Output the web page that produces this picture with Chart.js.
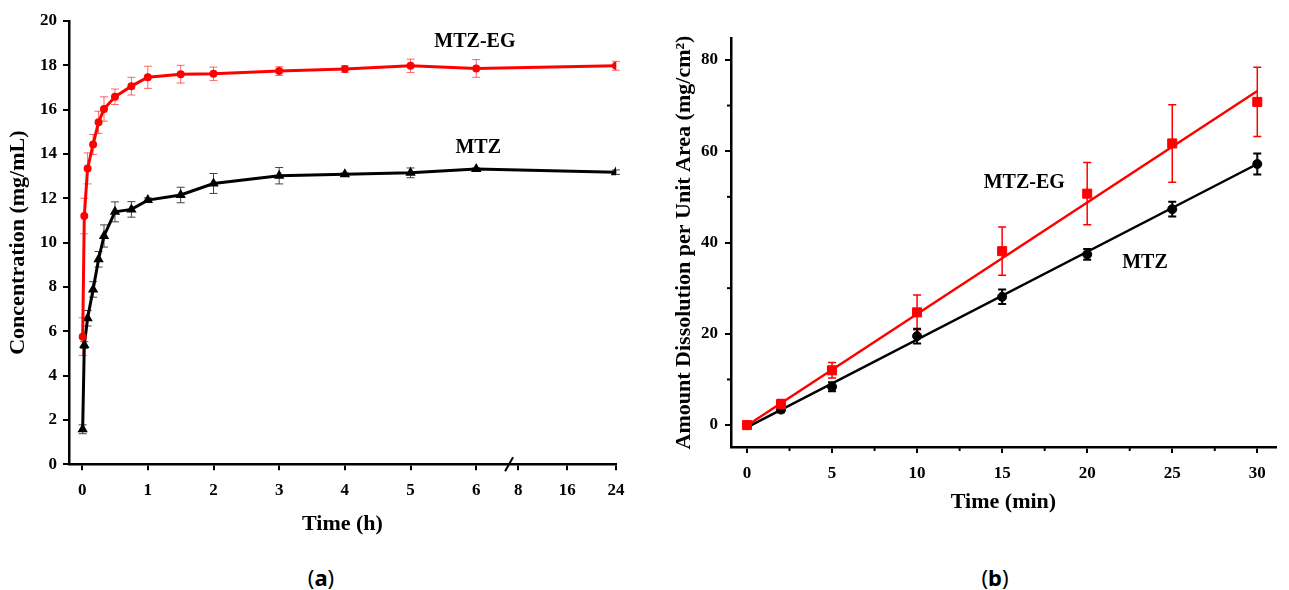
<!DOCTYPE html>
<html>
<head>
<meta charset="utf-8">
<script src="https://cdn.jsdelivr.net/npm/chart.js@4.4.0/dist/chart.umd.min.js"></script>
<style>
  body { margin: 0; background: #fff; width: 1289px; height: 590px; position: relative; overflow: hidden; }
  .box { position: absolute; }
  .cap { position: absolute; font-family: "Noto Sans", sans-serif; font-size: 22px; color: #000; transform: translate(-50%, -50%); }
</style>
</head>
<body>
<div class="box" style="left:0;top:0;width:640px;height:540px"><canvas id="chart-a"></canvas></div>
<div class="box" style="left:650px;top:0;width:639px;height:520px"><canvas id="chart-b"></canvas></div>
<div class="cap" style="left:321px;top:577px">(<b>a</b>)</div>
<div class="cap" style="left:995px;top:577px">(<b>b</b>)</div>
<script>
// panel (a): concentration over time
const hours = [0.008, 0.033, 0.083, 0.167, 0.25, 0.333, 0.5, 0.75, 1, 1.5, 2, 3, 4, 5, 6, 24]
const egConc = [5.76, 11.2, 13.35, 14.43, 15.43, 16.03, 16.58, 17.06, 17.46, 17.6, 17.62, 17.74, 17.83, 17.98, 17.86, 17.98]
const egConcErr = [0.85, 0.8, 0.7, 0.45, 0.5, 0.55, 0.35, 0.4, 0.5, 0.4, 0.3, 0.2, 0.15, 0.3, 0.4, 0.2]
const mtzConc = [1.58, 5.38, 6.59, 7.89, 9.25, 10.3, 11.39, 11.5, 11.92, 12.15, 12.67, 13.02, 13.09, 13.15, 13.32, 13.18]
const mtzConcErr = [0.2, 0.15, 0.35, 0.35, 0.35, 0.5, 0.45, 0.35, 0.1, 0.35, 0.45, 0.37, 0.05, 0.22, 0.05, 0.1]
const hourTicks = [0, 1, 2, 3, 4, 5, 6, 8, 16, 24]
const concTicks = [0, 2, 4, 6, 8, 10, 12, 14, 16, 18, 20]

// panel (b): dissolution per unit area
const minutes = [0, 2, 5, 10, 15, 20, 25, 30]
const egAmount = [0, 4.6, 12.0, 24.7, 38.1, 50.7, 61.7, 70.8]
const egAmountErr = [0, 1.0, 1.7, 3.8, 5.3, 6.8, 8.5, 7.6]
const mtzAmount = [0, 3.4, 8.4, 19.5, 28.1, 37.4, 47.3, 57.2]
const mtzAmountErr = [0, 0.6, 1.0, 1.6, 1.6, 1.2, 1.6, 2.3]
const fitMinutes = [0, 30]
const egFit = [-0.1, 73.2]
const mtzFit = [-0.5, 57.2]
const minuteTicks = [0, 5, 10, 15, 20, 25, 30]
const amountTicks = [0, 20, 40, 60, 80]

const RED = '#ff0000'
const tickFont = { family: 'Liberation Serif', weight: 'bold', size: 17 }
const titleFont = { family: 'Liberation Serif', weight: 'bold', size: 22 }

// broken axis: hours after 6 are squeezed
function hourPos (t) {
  return t <= 6 ? t : 6.64 + (t - 8) * 0.093
}

const errorBars = {
  id: 'errorBars',
  beforeDatasetsDraw (chart, args, opts) {
    const { ctx, scales: { x, y } } = chart
    for (const ds of chart.data.datasets) {
      if (!ds.errors) continue
      ctx.save()
      ctx.strokeStyle = ds.errorColor
      ctx.lineWidth = ds.errorWidth
      ds.data.forEach((p, j) => {
        const e = ds.errors[j]
        if (!e) return
        const px = x.getPixelForValue(p.x)
        const top = y.getPixelForValue(p.y + e)
        const bot = y.getPixelForValue(p.y - e)
        const c = opts.cap
        ctx.beginPath()
        ctx.moveTo(px, top); ctx.lineTo(px, bot)
        ctx.moveTo(px - c, top); ctx.lineTo(px + c, top)
        ctx.moveTo(px - c, bot); ctx.lineTo(px + c, bot)
        ctx.stroke()
      })
      ctx.restore()
    }
  }
}

const seriesLabels = {
  id: 'seriesLabels',
  afterDatasetsDraw (chart, args, opts) {
    const { ctx, scales: { x, y } } = chart
    ctx.save()
    ctx.font = 'bold 20px "Liberation Serif"'
    ctx.fillStyle = '#000'
    ctx.textAlign = 'center'
    ctx.textBaseline = 'middle'
    for (const l of opts.items) {
      ctx.fillText(l.text, x.getPixelForValue(l.x), y.getPixelForValue(l.y))
    }
    ctx.restore()
  }
}

const axisExtras = {
  id: 'axisExtras',
  afterDraw (chart, args, opts) {
    const { ctx, scales: { x, y }, chartArea } = chart
    ctx.save()
    ctx.strokeStyle = '#000'
    ctx.lineWidth = 2
    if (opts.breakAt != null) {
      const bx = x.getPixelForValue(opts.breakAt)
      const by = chartArea.bottom
      ctx.beginPath()
      ctx.moveTo(bx - 4, by + 7)
      ctx.lineTo(bx + 4, by - 7)
      ctx.stroke()
    }
    for (const v of opts.minorX || []) {
      const px = x.getPixelForValue(v)
      ctx.beginPath()
      ctx.moveTo(px, chartArea.bottom)
      ctx.lineTo(px, chartArea.bottom + 4)
      ctx.stroke()
    }
    for (const v of opts.minorY || []) {
      const py = y.getPixelForValue(v)
      ctx.beginPath()
      ctx.moveTo(chartArea.left, py)
      ctx.lineTo(chartArea.left - 4, py)
      ctx.stroke()
    }
    ctx.restore()
  }
}

function axisStyle (extra) {
  return Object.assign({
    type: 'linear',
    grid: { drawOnChartArea: false, drawTicks: true, tickLength: 6, color: '#000', lineWidth: 2 },
    border: { color: '#000', width: 2.5 }
  }, extra)
}

new Chart(document.getElementById('chart-a'), {
  type: 'scatter',
  data: {
    datasets: [
      {
        label: 'MTZ-EG',
        data: hours.map((t, i) => ({ x: hourPos(t), y: egConc[i] })),
        errors: egConcErr,
        errorColor: 'rgba(255,0,0,0.6)',
        errorWidth: 1,
        showLine: true,
        borderColor: RED,
        backgroundColor: RED,
        borderWidth: 3,
        pointStyle: 'circle',
        pointRadius: 2.5
      },
      {
        label: 'MTZ',
        data: hours.map((t, i) => ({ x: hourPos(t), y: mtzConc[i] })),
        errors: mtzConcErr,
        errorColor: '#444',
        errorWidth: 1,
        showLine: true,
        borderColor: '#000',
        backgroundColor: '#000',
        borderWidth: 3,
        pointStyle: 'triangle',
        pointRadius: 3
      }
    ]
  },
  options: {
    responsive: true,
    maintainAspectRatio: false,
    animation: false,
    layout: { padding: { top: 21, right: 24, left: 0, bottom: 0 } },
    plugins: {
      legend: { display: false },
      tooltip: { enabled: false },
      errorBars: { cap: 4 },
      seriesLabels: {
        items: [
          { text: 'MTZ-EG', x: 5.98, y: 19.05 },
          { text: 'MTZ', x: 6.03, y: 14.27 }
        ]
      },
      axisExtras: { breakAt: 6.5 }
    },
    scales: {
      x: axisStyle({
        min: -0.2,
        max: hourPos(24),
        afterBuildTicks: (axis) => { axis.ticks = hourTicks.map((h) => ({ value: hourPos(h) })) },
        afterFit: (axis) => { axis.height = 75.7 },
        ticks: { callback: (v, i) => hourTicks[i], font: tickFont, color: '#000', padding: 10, maxRotation: 0, autoSkip: false },
        title: { display: true, text: 'Time (h)', font: titleFont, color: '#000', padding: { top: 0, bottom: 2 } }
      }),
      y: axisStyle({
        min: 0,
        max: 20,
        afterBuildTicks: (axis) => { axis.ticks = concTicks.map((v) => ({ value: v })) },
        afterFit: (axis) => { axis.width = 69 },
        ticks: { font: tickFont, color: '#000', padding: 6 },
        title: { display: true, text: 'Concentration (mg/mL)', font: titleFont, color: '#000', padding: { top: 5, bottom: 0 } }
      })
    }
  },
  plugins: [errorBars, seriesLabels, axisExtras]
})

new Chart(document.getElementById('chart-b'), {
  type: 'scatter',
  data: {
    datasets: [
      {
        label: 'MTZ-EG',
        data: minutes.map((m, i) => ({ x: m, y: egAmount[i] })),
        errors: egAmountErr,
        errorColor: RED,
        errorWidth: 1.5,
        backgroundColor: RED,
        borderColor: RED,
        pointStyle: 'rect',
        pointRadius: 6.4
      },
      {
        label: 'MTZ',
        data: minutes.map((m, i) => ({ x: m, y: mtzAmount[i] })),
        errors: mtzAmountErr,
        errorColor: '#000',
        errorWidth: 2,
        backgroundColor: '#000',
        borderColor: '#000',
        pointStyle: 'circle',
        pointRadius: 4.5
      },
      {
        label: 'MTZ-EG fit',
        data: fitMinutes.map((m, i) => ({ x: m, y: egFit[i] })),
        showLine: true,
        borderColor: RED,
        borderWidth: 2.5,
        pointRadius: 0
      },
      {
        label: 'MTZ fit',
        data: fitMinutes.map((m, i) => ({ x: m, y: mtzFit[i] })),
        showLine: true,
        borderColor: '#000',
        borderWidth: 2.5,
        pointRadius: 0
      }
    ]
  },
  options: {
    responsive: true,
    maintainAspectRatio: false,
    animation: false,
    layout: { padding: { top: 38, right: 13, left: 0, bottom: 0 } },
    plugins: {
      legend: { display: false },
      tooltip: { enabled: false },
      errorBars: { cap: 4 },
      seriesLabels: {
        items: [
          { text: 'MTZ-EG', x: 16.3, y: 53.0 },
          { text: 'MTZ', x: 23.4, y: 35.5 }
        ]
      },
      axisExtras: {
        minorX: [2.5, 7.5, 12.5, 17.5, 22.5, 27.5],
        minorY: [10, 30, 50, 70]
      }
    },
    scales: {
      x: axisStyle({
        min: -0.94,
        max: 31.1,
        afterBuildTicks: (axis) => { axis.ticks = minuteTicks.map((v) => ({ value: v })) },
        afterFit: (axis) => { axis.height = 73 },
        ticks: { font: tickFont, color: '#000', padding: 10, maxRotation: 0, autoSkip: false },
        title: { display: true, text: 'Time (min)', font: titleFont, color: '#000', padding: { top: 0, bottom: 4 } }
      }),
      y: axisStyle({
        min: -4.8,
        max: 84.8,
        afterBuildTicks: (axis) => { axis.ticks = amountTicks.map((v) => ({ value: v })) },
        afterFit: (axis) => { axis.width = 81 },
        ticks: { font: tickFont, color: '#000', padding: 7 },
        title: { display: true, text: 'Amount Dissolution per Unit Area (mg/cm²)', font: titleFont, color: '#000', padding: { top: 21, bottom: 0 } }
      })
    }
  },
  plugins: [errorBars, seriesLabels, axisExtras]
})
</script>
</body>
</html>
